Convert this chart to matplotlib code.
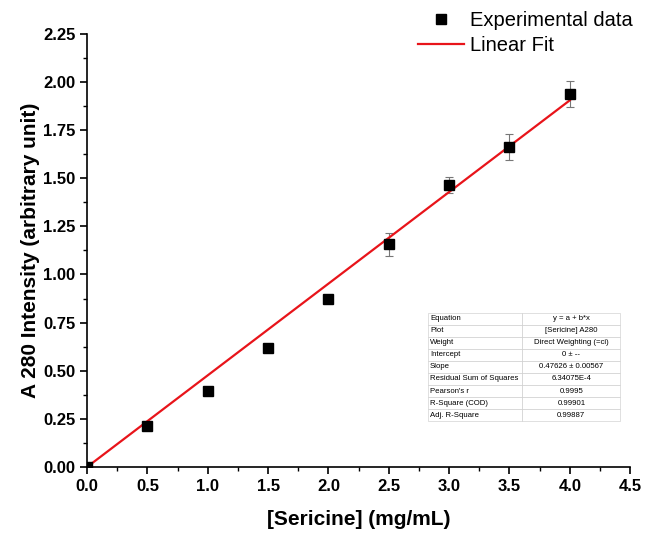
import numpy as np
import matplotlib.pyplot as plt

plt.rcParams['font.family'] = ['Liberation Sans', 'DejaVu Sans']

# Data
conc = [0.0, 0.5, 1.0, 1.5, 2.0, 2.5, 3.0, 3.5, 4.0]
a280 = [0.0, 0.215, 0.395, 0.62, 0.873, 1.158, 1.465, 1.663, 1.938]
a280_err = [0.0, 0.0, 0.0, 0.0, 0.0, 0.06, 0.04, 0.068, 0.068]

slope = 0.47626
intercept = 0.0

table_rows = [
    ["Equation", "y = a + b*x"],
    ["Plot", "[Sericine] A280"],
    ["Weight", "Direct Weighting (=ci)"],
    ["Intercept", "0 \u00b1 --"],
    ["Slope", "0.47626 \u00b1 0.00567"],
    ["Residual Sum of Squares", "6.34075E-4"],
    ["Pearson's r", "0.9995"],
    ["R-Square (COD)", "0.99901"],
    ["Adj. R-Square", "0.99887"],
]

fig = plt.figure(figsize=(6.45, 5.38), dpi=100)
ax = fig.add_axes([0.135, 0.132, 0.842, 0.805])

fit_x = np.array([0.0, 4.0])
ax.plot(fit_x, intercept + slope * fit_x, color='#e8141a', lw=1.6, label='Linear Fit', zorder=2)
ax.errorbar(conc, a280, yerr=a280_err, fmt='none', ecolor='#777777', elinewidth=0.8,
            capsize=3, capthick=0.8, zorder=1)
ax.plot(conc, a280, 's', color='black', ms=6.5, label='Experimental data', zorder=3, ls='none')

ax.set_xlim(0, 4.5)
ax.set_ylim(0, 2.25)
ax.set_xticks(np.arange(0, 4.51, 0.5))
ax.set_yticks(np.arange(0, 2.26, 0.25))
ax.set_xticks(np.arange(0.25, 4.5, 0.5), minor=True)
ax.set_yticks(np.arange(0.125, 2.25, 0.25), minor=True)
ax.xaxis.set_major_formatter(plt.FuncFormatter(lambda v, p: f"{v:.1f}"))
ax.yaxis.set_major_formatter(plt.FuncFormatter(lambda v, p: f"{v:.2f}"))
ax.tick_params(which='major', length=5, width=1.2, labelsize=12)
ax.tick_params(which='minor', length=3, width=1.0)
for lbl in ax.get_xticklabels() + ax.get_yticklabels():
    lbl.set_fontweight('bold')

ax.spines['top'].set_visible(False)
ax.spines['right'].set_visible(False)
ax.spines['left'].set_linewidth(1.2)
ax.spines['bottom'].set_linewidth(1.2)

ax.set_xlabel('[Sericine] (mg/mL)', fontsize=15, fontweight='bold', labelpad=12)
ax.set_ylabel('A 280 Intensity (arbitrary unit)', fontsize=15, fontweight='bold', labelpad=2)

handles, labels = ax.get_legend_handles_labels()
fig.legend(handles[::-1], labels[::-1], loc='upper left', bbox_to_anchor=(0.635, 0.995),
           frameon=False, fontsize=14.5, handlelength=2.3, handletextpad=0.3,
           labelspacing=0.3, borderaxespad=0)

tbl = ax.table(cellText=table_rows, colWidths=[0.49, 0.51], cellLoc='left',
               bbox=[0.628, 0.106, 0.354, 0.25])
tbl.auto_set_font_size(False)
tbl.set_fontsize(5.6)
for (r, c), cell in tbl.get_celld().items():
    cell.set_linewidth(0.4)
    cell.set_edgecolor('#c8c8c8')
    if c == 1:
        cell.get_text().set_horizontalalignment('center')
    cell.PAD = 0.02

fig.savefig('out.png', dpi=100)
